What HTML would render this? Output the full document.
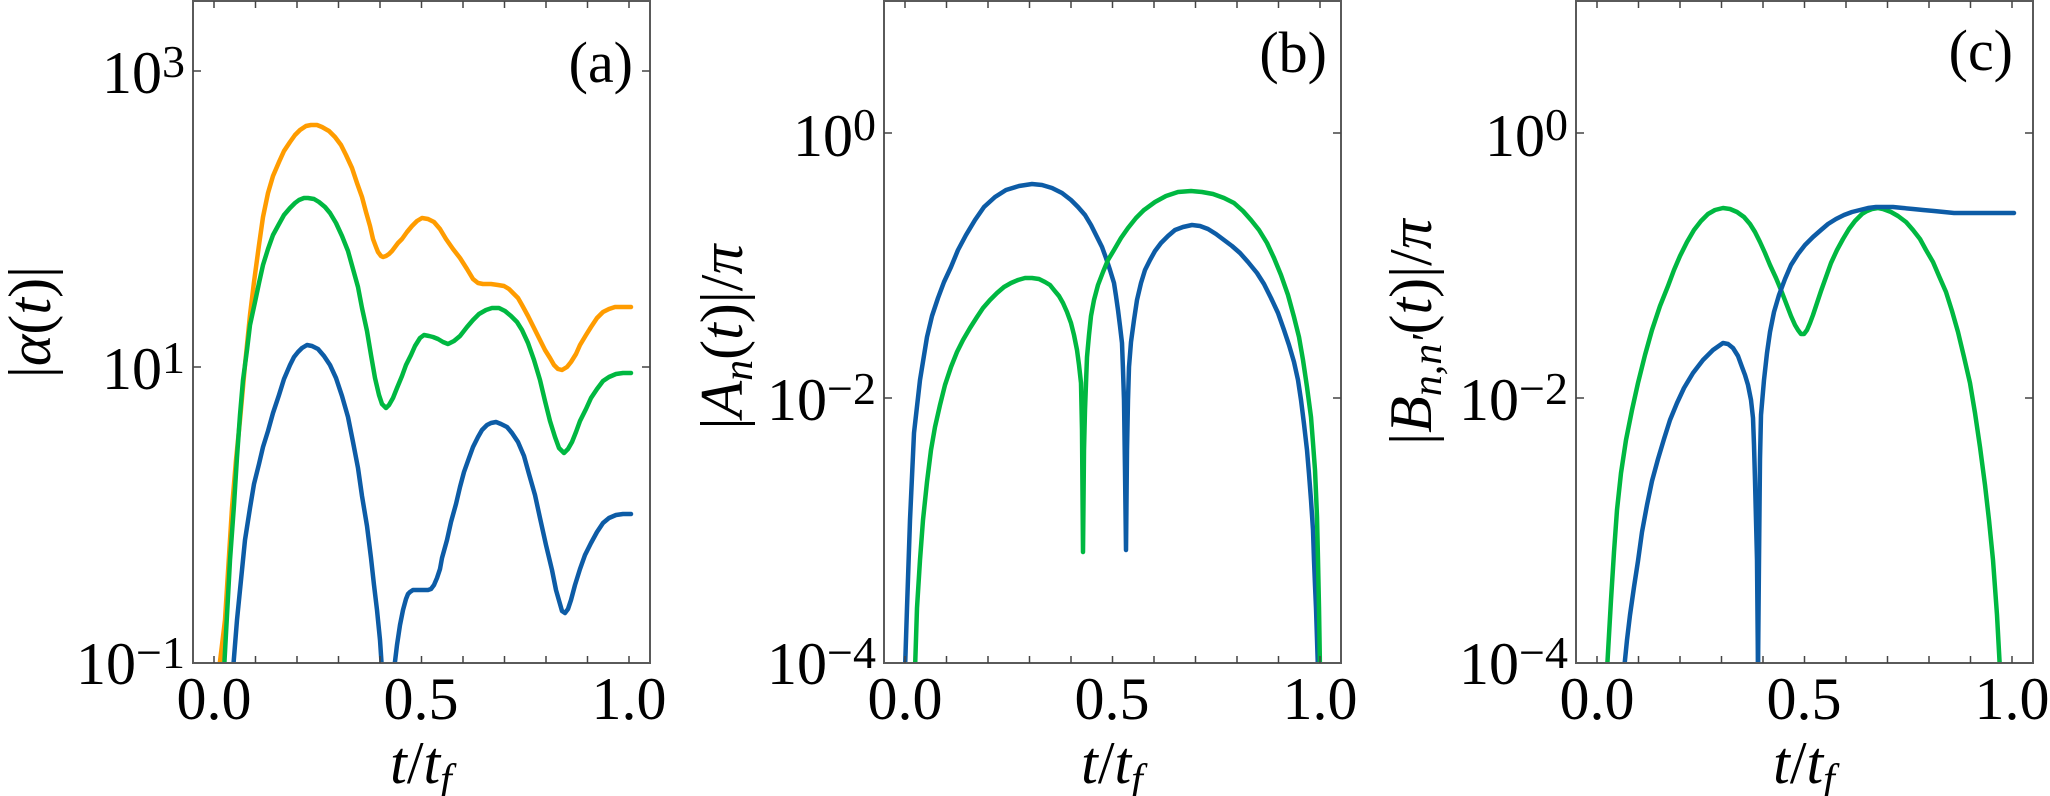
<!DOCTYPE html>
<html><head><meta charset="utf-8"><style>
html,body{margin:0;padding:0;background:#fff;}
svg{display:block;}
text{font-family:"Liberation Serif",serif;fill:#000;}
</style></head><body>
<svg width="2050" height="796" viewBox="0 0 2050 796" xmlns="http://www.w3.org/2000/svg">
<defs>
<clipPath id="ca"><rect x="193" y="0" width="457" height="663"/></clipPath>
<clipPath id="cb"><rect x="884" y="0" width="457" height="663"/></clipPath>
<clipPath id="cc"><rect x="1576" y="0" width="457" height="663"/></clipPath>
</defs>
<g fill="none" stroke-width="4.5" stroke-linejoin="round" stroke-linecap="round">
<g clip-path="url(#ca)">
<polyline stroke="#ff9c00" points="219,670 225,620 232,508 236,460 240,420 245,365 250,315 254,282 259,245 263,217 268,193 273,176 279,162 284,151 290,142 295,135 300,130 306,126 311,125 317,125 322,127 329,131 335,137 341,145 346,155 352,168 357,183 362,197 366,212 370,226 373,239 376,247 378,252 381,256 383,257 386,256 389,254 392,251 395,247 398,243 402,239 407,232 412,226 417,221 422,218 428,219 434,222 440,229 446,239 453,249 460,258 467,269 473,279 478,283 483,284 487,284 491,284 498,285 504,286 509,289 513,293 518,298 522,305 528,316 534,328 540,340 545,350 550,358 554,365 558,369 562,370 567,367 571,362 576,354 580,345 586,335 591,327 597,318 603,312 609,309 615,307 623,307 631,307"/>
<polyline stroke="#00b841" points="224,670 230,560 234,505 237,457 240,415 243,380 247,350 250,325 255,302 259,283 263,265 268,249 273,235 279,224 284,215 290,208 295,203 299,200 304,198 308,198 314,199 319,202 325,207 330,213 336,223 342,236 348,251 353,269 358,287 362,308 367,331 371,355 375,378 379,395 382,404 386,408 389,405 393,398 397,388 402,376 406,365 411,355 415,346 420,338 424,335 429,336 433,337 438,339 443,342 448,344 454,341 460,336 467,327 473,320 479,314 486,310 492,308 499,308 505,311 511,316 517,322 522,330 528,343 534,360 540,380 545,401 550,421 555,437 559,448 564,453 568,449 572,442 576,432 580,421 586,409 591,398 597,389 603,381 609,377 616,374 623,373 631,373"/>
<polyline stroke="#0d5ca6" points="233,670 237,620 241,580 245,540 250,508 254,484 259,464 263,447 268,431 273,413 279,395 284,379 290,365 294,357 298,352 302,348 307,345 312,346 318,349 324,356 330,365 336,378 342,396 348,417 353,442 358,468 362,496 367,526 371,558 374,585 377,610 380,640 382,670"/>
<polyline stroke="#0d5ca6" points="394,670 397,645 400,625 403,610 406,599 408,594 410,592 413,590 415,590 420,590 424,590 428,590 431,589 434,585 437,578 440,569 442,558 447,540 451,522 456,504 460,487 464,472 469,458 473,447 478,437 482,430 487,425 491,423 496,422 501,424 507,427 512,433 518,442 524,456 529,474 535,495 540,518 546,545 552,570 556,590 560,604 562,611 565,613 568,609 571,600 575,585 580,569 585,555 591,543 597,532 603,523 609,518 616,515 623,514 631,514"/>
</g>
<g clip-path="url(#cb)">
<polyline stroke="#0d5ca6" points="905,670 907,608 910,520 914,433 920,380 927,337 932,316 938,298 944,282 951,267 958,250 966,235 975,220 984,207 995,197 1006,190 1019,186 1032,184 1042,185 1052,188 1062,193 1071,200 1078,207 1085,215 1091,225 1097,237 1102,247 1106,258 1110,270 1114,283 1116,296 1118,310 1120,326 1122,343 1123,370 1124,400 1125,470 1126,550 1127,450 1128,400 1129,367 1131,342 1134,320 1137,300 1141,283 1145,270 1150,260 1155,251 1161,243 1168,236 1175,230 1183,227 1192,225 1200,226 1208,229 1216,234 1224,240 1232,246 1240,253 1248,262 1257,273 1264,284 1271,298 1278,313 1284,330 1289,345 1294,362 1298,380 1301,400 1304,424 1307,450 1309,474 1311,500 1313,530 1314,560 1315,585 1316,608 1318,670"/>
<polyline stroke="#00b841" points="915,670 917,608 920,560 923,520 927,482 931,450 935,427 940,405 945,385 951,367 957,352 963,340 970,328 977,317 983,308 990,300 997,293 1004,287 1011,283 1018,280 1025,278 1032,278 1039,279 1045,282 1050,285 1054,290 1059,296 1063,303 1067,312 1071,323 1074,335 1077,350 1079,365 1081,383 1082,430 1083,552 1084,450 1085,410 1086,383 1087,357 1089,335 1091,316 1094,300 1098,285 1103,272 1108,260 1114,250 1121,238 1128,228 1136,218 1144,210 1155,202 1166,196 1178,192 1191,191 1202,192 1213,194 1224,198 1234,203 1243,211 1251,220 1259,230 1267,243 1274,258 1281,275 1288,295 1294,317 1299,337 1303,360 1307,387 1311,417 1313,443 1315,470 1316,493 1317,517 1318,560 1319,608 1320,670"/>
</g>
<g clip-path="url(#cc)">
<polyline stroke="#00b841" points="1607,670 1611,600 1614,552 1617,510 1621,473 1626,440 1632,410 1638,383 1645,355 1652,330 1660,306 1668,286 1674,270 1680,256 1687,242 1694,230 1701,221 1708,214 1715,210 1723,208 1730,209 1737,212 1744,217 1750,224 1755,232 1760,242 1765,253 1770,265 1776,278 1781,290 1786,303 1791,316 1795,325 1798,330 1801,334 1804,334 1807,330 1810,323 1813,315 1816,306 1821,291 1826,277 1831,263 1837,250 1843,239 1849,229 1855,221 1862,214 1867,211 1872,209 1878,208 1883,209 1891,212 1898,216 1906,222 1913,230 1920,239 1926,250 1933,262 1939,276 1946,292 1952,311 1958,332 1964,357 1970,383 1975,413 1980,447 1985,485 1989,520 1993,560 1997,615 2000,670"/>
<polyline stroke="#0d5ca6" points="1624,670 1627,640 1630,615 1634,587 1638,561 1642,532 1647,505 1652,481 1658,459 1664,439 1670,420 1677,403 1684,388 1693,373 1703,360 1713,350 1723,343 1728,344 1733,348 1738,356 1742,367 1745,375 1748,385 1751,400 1753,418 1754,445 1755,480 1756,520 1757,560 1758,670"/>
<polyline stroke="#0d5ca6" points="1758,670 1759,560 1760,459 1761,415 1764,380 1767,353 1770,332 1774,312 1779,295 1785,279 1791,265 1798,254 1805,245 1813,237 1821,230 1828,224 1836,219 1844,215 1852,212 1860,210 1868,208 1876,207 1883,207 1893,207 1903,208 1913,209 1923,210 1934,211 1944,212 1954,213 1964,213 1977,213 1990,213 2002,213 2014,213"/>
</g>
</g>
<g fill="none" stroke="#5a5a5a" stroke-width="2">
<rect x="193" y="1" width="457" height="662"/>
<rect x="884" y="1" width="457" height="662"/>
<rect x="1576" y="1" width="457" height="662"/>
</g>
<g fill="none" stroke="#444" stroke-width="1.5">
<path d="M214,663v-7M255.5,663v-7M297,663v-7M338.5,663v-7M380,663v-7M421.5,663v-7M463,663v-7M504.5,663v-7M546,663v-7M587.5,663v-7M629,663v-7 M214,1v7M255.5,1v7M297,1v7M338.5,1v7M380,1v7M421.5,1v7M463,1v7M504.5,1v7M546,1v7M587.5,1v7M629,1v7"/>
<path d="M905,663v-7M946.5,663v-7M988,663v-7M1029.5,663v-7M1071,663v-7M1112.5,663v-7M1154,663v-7M1195.5,663v-7M1237,663v-7M1278.5,663v-7M1320,663v-7 M905,1v7M946.5,1v7M988,1v7M1029.5,1v7M1071,1v7M1112.5,1v7M1154,1v7M1195.5,1v7M1237,1v7M1278.5,1v7M1320,1v7"/>
<path d="M1597,663v-7M1638.5,663v-7M1680,663v-7M1721.5,663v-7M1763,663v-7M1804.5,663v-7M1846,663v-7M1887.5,663v-7M1929,663v-7M1970.5,663v-7M2012,663v-7 M1597,1v7M1638.5,1v7M1680,1v7M1721.5,1v7M1763,1v7M1804.5,1v7M1846,1v7M1887.5,1v7M1929,1v7M1970.5,1v7M2012,1v7"/>
<path d="M193,71h8M650,71h-8M193,367h8M650,367h-8 M884,133h8M1341,133h-8M884,398h8M1341,398h-8 M1576,133h8M2033,133h-8M1576,398h8M2033,398h-8"/>
</g>
<g font-size="60">
<text x="185" y="93" text-anchor="end">10<tspan font-size="46" dy="-16">3</tspan></text>
<text x="185" y="389" text-anchor="end">10<tspan font-size="46" dy="-16">1</tspan></text>
<text x="185" y="684" text-anchor="end">10<tspan font-size="46" dy="-16">−1</tspan></text>
<text x="876" y="156" text-anchor="end">10<tspan font-size="46" dy="-16">0</tspan></text>
<text x="876" y="420" text-anchor="end">10<tspan font-size="46" dy="-16">−2</tspan></text>
<text x="876" y="684" text-anchor="end">10<tspan font-size="46" dy="-16">−4</tspan></text>
<text x="1568" y="156" text-anchor="end">10<tspan font-size="46" dy="-16">0</tspan></text>
<text x="1568" y="420" text-anchor="end">10<tspan font-size="46" dy="-16">−2</tspan></text>
<text x="1568" y="684" text-anchor="end">10<tspan font-size="46" dy="-16">−4</tspan></text>
<text x="214" y="719" text-anchor="middle">0.0</text>
<text x="421" y="719" text-anchor="middle">0.5</text>
<text x="629" y="719" text-anchor="middle">1.0</text>
<text x="905" y="719" text-anchor="middle">0.0</text>
<text x="1112" y="719" text-anchor="middle">0.5</text>
<text x="1320" y="719" text-anchor="middle">1.0</text>
<text x="1597" y="719" text-anchor="middle">0.0</text>
<text x="1804" y="719" text-anchor="middle">0.5</text>
<text x="2012" y="719" text-anchor="middle">1.0</text>
<text x="421" y="783" text-anchor="middle"><tspan font-style="italic">t</tspan>/<tspan font-style="italic">t</tspan><tspan font-style="italic" font-size="42" dy="10">f</tspan></text>
<text x="1112" y="783" text-anchor="middle"><tspan font-style="italic">t</tspan>/<tspan font-style="italic">t</tspan><tspan font-style="italic" font-size="42" dy="10">f</tspan></text>
<text x="1804" y="783" text-anchor="middle"><tspan font-style="italic">t</tspan>/<tspan font-style="italic">t</tspan><tspan font-style="italic" font-size="42" dy="10">f</tspan></text>
<text transform="translate(50,322) rotate(-90)" text-anchor="middle">|<tspan font-style="italic">α</tspan>(<tspan font-style="italic">t</tspan>)|</text>
<text transform="translate(742,337) rotate(-90)" text-anchor="middle">|<tspan font-style="italic">A</tspan><tspan font-style="italic" font-size="42" dy="10">n</tspan><tspan dy="-10">(</tspan><tspan font-style="italic">t</tspan>)|/<tspan font-style="italic">π</tspan></text>
<text transform="translate(1431,332) rotate(-90)" text-anchor="middle">|<tspan font-style="italic">B</tspan><tspan font-style="italic" font-size="42" dy="10">n,n′</tspan><tspan dy="-10">(</tspan><tspan font-style="italic">t</tspan>)|/<tspan font-style="italic">π</tspan></text>
<text x="633" y="82" text-anchor="end" font-size="58">(a)</text>
<text x="1327" y="72" text-anchor="end" font-size="58">(b)</text>
<text x="2013" y="70" text-anchor="end" font-size="58">(c)</text>
</g>
</svg>
</body></html>
